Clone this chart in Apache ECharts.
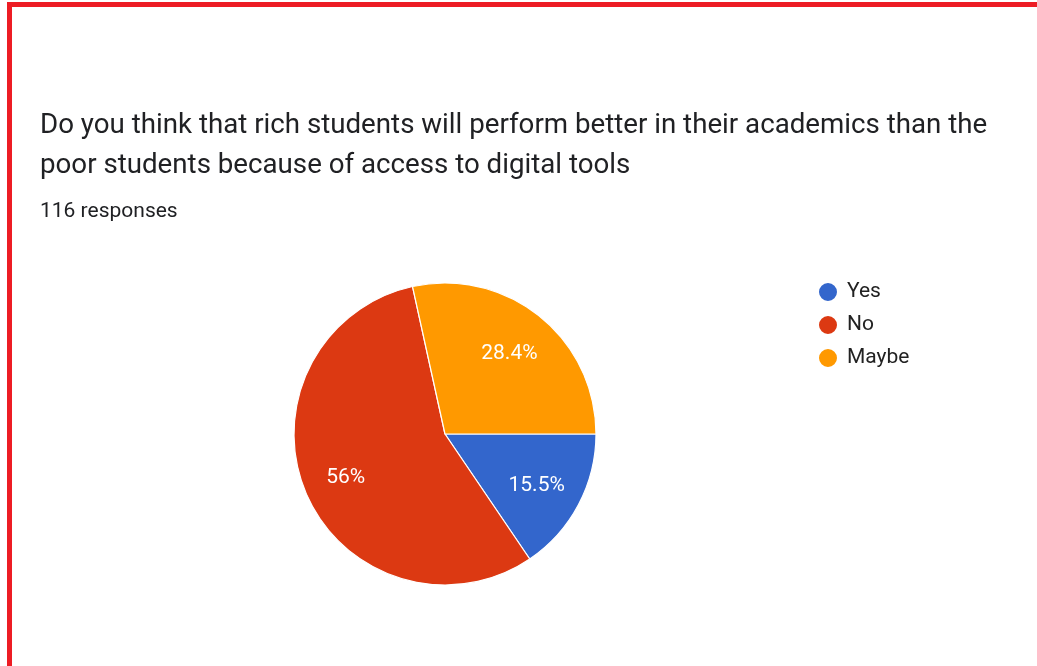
<!DOCTYPE html>
<html>
<head>
<meta charset="utf-8">
<title>Rich vs poor students and digital tools</title>
<script src="https://cdn.jsdelivr.net/npm/echarts@6/dist/echarts.min.js"></script>
<style>
  html, body { margin: 0; padding: 0; background: #ffffff; }
  #chart { width: 1037px; height: 666px; }
</style>
</head>
<body>
<div id="chart"></div>
<script>
// Survey answers and their response counts (116 responses in total)
const categories = ['Yes', 'No', 'Maybe'];
const counts = [18, 65, 33];
const sliceColors = ['#3366CC', '#DC3912', '#FF9900'];

const questionText = 'Do you think that rich students will perform better in their academics than the\npoor students because of access to digital tools';
const responsesText = '116 responses';

const total = counts.reduce((a, b) => a + b, 0);
const pieData = categories.map((name, i) => ({
  name: name,
  value: counts[i],
  itemStyle: { color: sliceColors[i] }
}));

function percentLabel(p) {
  const pct = p.value / total * 100;
  const r = Math.round(pct * 10) / 10;
  return (r % 1 === 0 ? r.toFixed(0) : r.toFixed(1)) + '%';
}

const chart = echarts.init(document.getElementById('chart'), null, { renderer: 'canvas' });

const center = [445, 434];

chart.setOption({
  backgroundColor: '#ffffff',
  animation: false,
  title: [
    {
      text: questionText,
      left: 35,
      top: 101,
      textStyle: {
        fontFamily: 'Roboto',
        fontSize: 27.7,
        fontWeight: 'normal',
        color: '#202124',
        lineHeight: 40
      }
    },
    {
      text: responsesText,
      left: 35,
      top: 196,
      textStyle: {
        fontFamily: 'Roboto',
        fontSize: 21,
        fontWeight: 'normal',
        color: '#202124'
      }
    }
  ],
  legend: {
    orient: 'vertical',
    left: 812,
    top: 276,
    itemGap: 11,
    itemWidth: 28,
    itemHeight: 20,
    icon: 'circle',
    data: categories,
    textStyle: {
      fontFamily: 'Roboto',
      fontSize: 21,
      color: '#222222'
    }
  },
  graphic: [
    {
      type: 'rect',
      silent: true,
      shape: { x: 9.5, y: 4.5, width: 1100, height: 800 },
      style: { fill: null, stroke: '#ED1C24', lineWidth: 5 }
    }
  ],
  series: [
    {
      // filled slices
      type: 'pie',
      center: center,
      radius: 151,
      startAngle: 0,
      clockwise: true,
      legendHoverLink: false,
      label: { show: false },
      labelLine: { show: false },
      itemStyle: { borderColor: '#ffffff', borderWidth: 1.2 },
      emphasis: { disabled: true },
      data: pieData
    },
    {
      // percentage labels, placed in the outer part of each slice
      type: 'pie',
      center: center,
      radius: [55, 151],
      startAngle: 0,
      clockwise: true,
      silent: true,
      legendHoverLink: false,
      itemStyle: { color: 'rgba(0,0,0,0)' },
      emphasis: { disabled: true },
      label: {
        show: true,
        position: 'inside',
        formatter: percentLabel,
        offset: [-2, 2],
        fontFamily: 'Roboto',
        fontSize: 21,
        color: '#ffffff'
      },
      labelLine: { show: false },
      data: categories.map((name, i) => ({ name: name, value: counts[i] }))
    }
  ]
});
</script>
</body>
</html>
